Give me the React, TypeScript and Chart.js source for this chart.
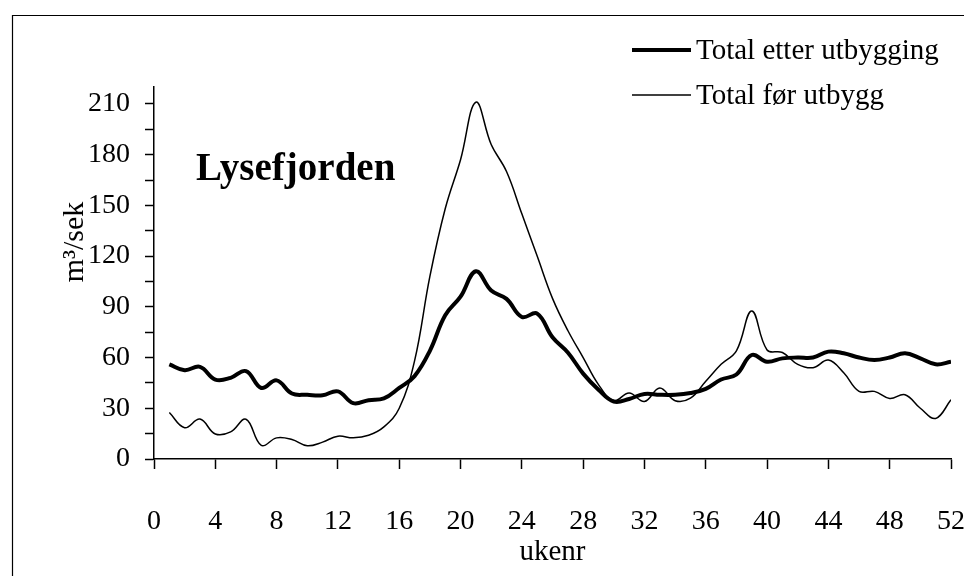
import React, { useEffect, useRef } from "react";
import { Chart, registerables } from "chart.js";

Chart.register(...registerables);

const weeks = [
  1, 2, 3, 4, 5, 6, 7, 8, 9, 10, 11, 12, 13, 14, 15, 16, 17, 18, 19, 20, 21, 22, 23, 24, 25, 26,
  27, 28, 29, 30, 31, 32, 33, 34, 35, 36, 37, 38, 39, 40, 41, 42, 43, 44, 45, 46, 47, 48, 49, 50, 51, 52,
];

const totalEtter = [
  56, 52.5, 54.5, 47, 48, 52, 42, 46.5, 38.7, 38, 37.7, 40, 33, 34.8, 35.8, 42, 49, 64, 85, 96, 111, 99.6,
  94.7, 84, 86, 72, 63, 50.5, 41, 34, 35.5, 38.5, 38, 38, 39, 41.5, 47, 50, 61.5, 57.5, 59.5, 60, 60, 63.5,
  62.5, 60, 58.5, 60, 62.5, 59.5, 56, 57.5,
];

const totalFoer = [
  27.5, 18.5, 23.6, 14.8, 16, 23.5, 8, 12.5, 11.5, 7.8, 10, 13.5, 12.5, 14, 19, 30, 58, 108, 148, 177, 211,
  186, 170, 145, 120, 95, 76, 60, 44, 34.5, 39, 34, 42, 34.5, 36, 46, 56, 64, 87.5, 64.5, 63, 56, 54, 58.5,
  51, 40, 40, 35.8, 38, 30, 24, 35,
];

const yTickValues = [0, 15, 30, 45, 60, 75, 90, 105, 120, 135, 150, 165, 180, 195, 210];
const xTickValues = [0, 4, 8, 12, 16, 20, 24, 28, 32, 36, 40, 44, 48, 52];

const seriesLabels = ["Total etter utbygging", "Total før utbygg"];
const chartTitle = "Lysefjorden";
const yTitle = "m³/sek";
const xTitle = "ukenr";

const SERIF = "'Liberation Serif', 'Times New Roman', serif";

const decorPlugin = {
  id: "decor",
  afterDraw(chart: any) {
    const ctx = chart.ctx as CanvasRenderingContext2D;
    ctx.save();
    // outer frame
    ctx.strokeStyle = "#000";
    ctx.lineWidth = 1.2;
    ctx.beginPath();
    ctx.moveTo(12.5, chart.height);
    ctx.lineTo(12.5, 15.5);
    ctx.lineTo(chart.width, 15.5);
    ctx.stroke();

    // title inside plot
    ctx.fillStyle = "#000";
    ctx.font = `bold 39px ${SERIF}`;
    ctx.textAlign = "left";
    ctx.textBaseline = "alphabetic";
    ctx.fillText(chartTitle, 196, 180);

    // y axis title
    ctx.save();
    ctx.translate(75, 242);
    ctx.rotate(-Math.PI / 2);
    ctx.font = `30px ${SERIF}`;
    ctx.textAlign = "center";
    ctx.textBaseline = "middle";
    ctx.fillText(yTitle, 0, 0);
    ctx.restore();

    // legend
    const ds = chart.data.datasets;
    const rows = [50, 95];
    ctx.font = `29px ${SERIF}`;
    ctx.textAlign = "left";
    ctx.textBaseline = "middle";
    ds.forEach((d: any, i: number) => {
      const y = rows[i];
      ctx.strokeStyle = d.borderColor;
      ctx.lineWidth = d.borderWidth;
      ctx.beginPath();
      ctx.moveTo(632, y);
      ctx.lineTo(691, y);
      ctx.stroke();
      ctx.fillText(d.label, 696, y + 1);
    });
    ctx.restore();
  },
};

export default function App() {
  const ref = useRef<HTMLCanvasElement | null>(null);

  useEffect(() => {
    if (!ref.current) return;
    const chart = new Chart(ref.current, {
      type: "line",
      data: {
        datasets: [
          {
            label: seriesLabels[0],
            data: weeks.map((w, i) => ({ x: w, y: totalEtter[i] })),
            borderColor: "#000",
            borderWidth: 4,
            pointRadius: 0,
            tension: 0.4,
            fill: false,
          },
          {
            label: seriesLabels[1],
            data: weeks.map((w, i) => ({ x: w, y: totalFoer[i] })),
            borderColor: "#000",
            borderWidth: 1.5,
            pointRadius: 0,
            tension: 0.4,
            fill: false,
          },
        ],
      },
      options: {
        animation: false,
        responsive: false,
        devicePixelRatio: 1,
        layout: { padding: { left: 0, top: 87, right: 13, bottom: 0 } },
        plugins: {
          legend: { display: false },
          tooltip: { enabled: false },
        },
        scales: {
          x: {
            type: "linear",
            min: 0,
            max: 52,
            afterFit(scale: any) {
              scale.height = 576 - 459;
              scale.paddingRight = 13;
              scale.paddingLeft = 0;
            },
            afterBuildTicks(scale: any) {
              scale.ticks = xTickValues.map((v) => ({ value: v }));
            },
            ticks: {
              color: "#000",
              font: { family: SERIF, size: 28 },
              padding: 36,
              maxRotation: 0,
              autoSkip: false,
            },
            grid: {
              drawOnChartArea: false,
              drawTicks: true,
              tickLength: 10,
              tickColor: "#000",
              tickWidth: 1.5,
            },
            border: { display: true, color: "#000", width: 1.5 },
            title: {
              display: true,
              text: xTitle,
              color: "#000",
              font: { family: SERIF, size: 29 },
              padding: { top: 0, bottom: 6 },
            },
          },
          y: {
            type: "linear",
            min: 0,
            max: 220,
            afterFit(scale: any) {
              scale.width = 154;
            },
            afterBuildTicks(scale: any) {
              scale.ticks = yTickValues.map((v) => ({ value: v }));
            },
            ticks: {
              color: "#000",
              font: { family: SERIF, size: 28 },
              padding: 15,
              autoSkip: false,
              callback: (v: any) => (Number(v) % 30 === 0 ? String(v) : ""),
            },
            grid: {
              drawOnChartArea: false,
              drawTicks: true,
              tickLength: 9,
              tickColor: "#000",
              tickWidth: 1.5,
            },
            border: { display: true, color: "#000", width: 1.5 },
          },
        },
      },
      plugins: [decorPlugin],
    });
    return () => chart.destroy();
  }, []);

  return (
    <div style={{ position: "fixed", left: 0, top: 0, width: 964, height: 576, background: "#fff" }}>
      <canvas ref={ref} width={964} height={576} style={{ display: "block" }} />
    </div>
  );
}
